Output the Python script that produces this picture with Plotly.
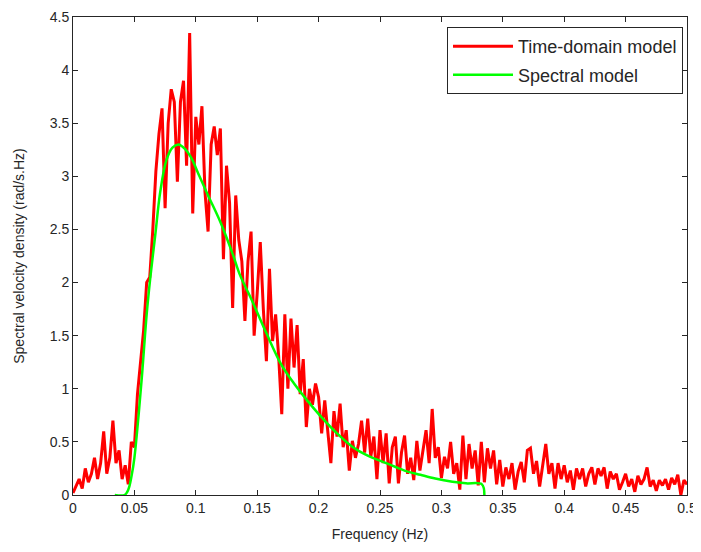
import plotly.graph_objects as go

# Time-domain model: spectral velocity density sampled every 0.0025 Hz from 0 to 0.5 Hz
freq_step = 0.0025
time_domain_vals = [
    # 0.0000 - 0.0500
    0.02, 0.08, 0.15, 0.06, 0.25, 0.12, 0.2, 0.35, 0.15, 0.3,
    0.6, 0.2, 0.35, 0.7, 0.3, 0.42, 0.15, 0.28, 0.1, 0.5, 0.45,
    # 0.0525 - 0.1250
    0.95, 1.25, 1.55, 2.0, 2.05, 2.5, 3.05, 3.4, 3.64, 2.7,
    3.5, 3.82, 3.7, 2.95, 3.7, 3.9, 3.1, 4.35, 2.65, 3.56,
    3.3, 3.66, 2.85, 2.48, 3.3, 3.47, 3.2, 3.45, 2.22, 3.1,
    # 0.1275 - 0.1975
    2.75, 1.76, 2.82, 2.4, 2.2, 1.64, 2.2, 2.48, 1.5, 1.9,
    2.38, 1.75, 1.26, 2.13, 1.45, 1.7, 1.3, 0.76, 1.7, 1.0,
    1.66, 1.2, 1.6, 0.95, 1.28, 0.64, 1.0, 0.85, 1.05,
    # 0.2000 - 0.5000
    0.92, 0.58, 0.89, 0.62, 0.3, 0.79, 0.55, 0.86, 0.45, 0.61,
    0.23, 0.51, 0.35, 0.48, 0.7, 0.4, 0.72, 0.36, 0.55, 0.15,
    0.61, 0.3, 0.58, 0.11, 0.45, 0.55, 0.11, 0.4, 0.56, 0.2,
    0.35, 0.14, 0.51, 0.23, 0.4, 0.61, 0.3, 0.81, 0.35, 0.45,
    0.16, 0.36, 0.25, 0.5, 0.2, 0.3, 0.05, 0.56, 0.15, 0.48,
    0.25, 0.42, 0.09, 0.5, 0.12, 0.44, 0.25, 0.42, 0.1, 0.33,
    0.08, 0.26, 0.15, 0.3, 0.05, 0.22, 0.31, 0.12, 0.42, 0.44,
    0.2, 0.32, 0.08, 0.3, 0.48, 0.2, 0.3, 0.06, 0.3, 0.15,
    0.28, 0.12, 0.23, 0.05, 0.25, 0.15, 0.25, 0.08, 0.2, 0.26,
    0.1, 0.25, 0.18, 0.26, 0.06, 0.22, 0.15, 0.2, 0.05, 0.12,
    0.2, 0.08, 0.15, 0.03, 0.18, 0.1, 0.15, 0.26, 0.08, 0.14,
    0.04, 0.14, 0.09, 0.15, 0.05, 0.16, 0.1, 0.19, 0.0, 0.14,
    0.1,
]
time_domain_freq = [round(i * freq_step, 4) for i in range(len(time_domain_vals))]

# Spectral model (smooth curve)
spectral_freq = [0.034, 0.042, 0.045, 0.048, 0.050, 0.053, 0.056, 0.060, 0.063, 0.067,
                 0.071, 0.076, 0.081, 0.086, 0.091, 0.096, 0.103, 0.110, 0.120, 0.130,
                 0.136, 0.145, 0.158, 0.170, 0.180, 0.190, 0.201, 0.215, 0.228, 0.240,
                 0.255, 0.270, 0.283, 0.295, 0.309, 0.320, 0.333, 0.335]
spectral_vals = [0.0, 0.0, 0.05, 0.2, 0.35, 0.7, 1.1, 1.7, 2.05, 2.45,
                 2.85, 3.15, 3.27, 3.3, 3.26, 3.18, 3.0, 2.82, 2.57, 2.27,
                 2.07, 1.85, 1.51, 1.22, 1.05, 0.9, 0.75, 0.58, 0.45, 0.37,
                 0.3, 0.23, 0.19, 0.155, 0.125, 0.11, 0.10, 0.0]

x_ticks = [0, 0.05, 0.1, 0.15, 0.2, 0.25, 0.3, 0.35, 0.4, 0.45, 0.5]
y_ticks = [0, 0.5, 1, 1.5, 2, 2.5, 3, 3.5, 4, 4.5]

fig = go.Figure()
fig.add_trace(go.Scatter(x=time_domain_freq, y=time_domain_vals, mode="lines",
                         name="Time-domain model", legendgroup="a",
                         line=dict(color="#FF0000", width=3)))
fig.add_trace(go.Scatter(x=spectral_freq, y=spectral_vals, mode="lines",
                         name="Spectral model", line_shape="spline", legendgroup="b",
                         line=dict(color="#00FF00", width=2.5)))

font_family = "Liberation Sans, Arial, sans-serif"
axis_common = dict(showline=True, linecolor="#262626", linewidth=1, mirror="ticks",
                   ticks="inside", ticklen=5, tickcolor="#262626", showgrid=False,
                   zeroline=False, automargin=False, ticklabeloverflow="allow",
                   tickfont=dict(family=font_family, size=14, color="#262626"))

# page body has an 8px margin, so the figure is sized/margined to compensate
fig.update_layout(
    width=693, height=544,
    margin=dict(l=65, r=14, t=9, b=57, autoexpand=False),
    paper_bgcolor="white", plot_bgcolor="white",
    font=dict(family=font_family, size=14, color="#262626"),
    xaxis=dict(range=[0, 0.5], tickvals=x_ticks, ticktext=[str(v) for v in x_ticks],
               title=dict(text="Frequency (Hz)", standoff=14, font=dict(size=14)),
               **axis_common),
    yaxis=dict(range=[0, 4.5], tickvals=y_ticks, ticktext=[str(v) for v in y_ticks],
               title=dict(text="Spectral velocity density (rad/s.Hz)", standoff=21, font=dict(size=14)),
               **axis_common),
    legend=dict(x=0.9935, y=0.979, xanchor="right", yanchor="top",
                bgcolor="white", bordercolor="#262626", borderwidth=1,
                itemwidth=60, tracegroupgap=2,
                font=dict(family=font_family, size=18, color="#262626")),
    showlegend=True,
)

fig.write_html("out.html")
